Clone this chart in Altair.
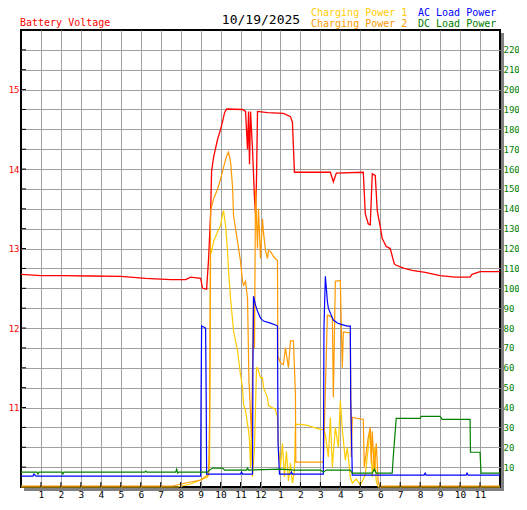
import altair as alt
import pandas as pd

# ---------------- data ----------------
hour_ticks = list(range(1, 24))
hour_labels = ["1", "2", "3", "4", "5", "6", "7", "8", "9", "10", "11", "12",
               "1", "2", "3", "4", "5", "6", "7", "8", "9", "10", "11"]
volt_labels = [11, 12, 13, 14, 15]
power_ticks = list(range(10, 221, 10))

date_text = "10/19/2025"
volt_name = "Battery Voltage"
series_names = ["Charging Power 1", "Charging Power 2", "AC Load Power", "DC Load Power"]
series_colors = ["#FFCC00", "#FF9900", "#0000FF", "#008000"]

volt_t = [0, 1.0, 2.0, 3.5, 5.0, 6.25, 7.5, 8.25, 8.5, 9.0, 9.1, 9.3, 9.4, 9.5, 9.55,
          9.65, 9.85, 10.0, 10.1, 10.2, 10.3, 11.1, 11.25, 11.35, 11.4, 11.45, 11.5,
          11.6, 11.7, 11.75, 11.8, 11.85, 12.35, 13.15, 13.5, 13.6, 13.7, 15.5, 15.65,
          15.8, 17.15, 17.25, 17.4, 17.5, 17.6, 17.75, 17.85, 18.0, 18.1, 18.3, 18.5,
          18.7, 18.8, 19.2, 19.6, 20.25, 21.0, 21.75, 22.5, 22.6, 23.0, 24.0]
volt_v = [12.675, 12.66, 12.66, 12.655, 12.65, 12.625, 12.61, 12.61, 12.64, 12.625, 12.5,
          12.49, 12.875, 13.44, 13.975, 14.15, 14.375, 14.5, 14.6, 14.71, 14.756, 14.75,
          14.725, 14.25, 14.725, 14.06, 14.725, 14.25, 13.625, 13.44, 13.875, 14.725,
          14.71, 14.7, 14.66, 14.59, 13.96, 13.96, 13.84, 13.95, 13.96, 13.44, 13.31,
          13.3, 13.94, 13.92, 13.475, 13.275, 13.125, 13.025, 13.0, 12.81, 12.79, 12.75,
          12.725, 12.7, 12.66, 12.64, 12.64, 12.675, 12.71, 12.71]

cp1_t = [0, 7.85, 8.5, 9.35, 9.45, 9.5, 9.55, 9.65, 9.85, 10.0, 10.1, 10.15, 10.25, 10.35,
         10.4, 10.5, 10.65, 10.85, 11.0, 11.1, 11.15, 11.25, 11.35, 11.4, 11.45, 11.5,
         11.55, 11.6, 11.7, 11.8, 11.85, 12.0, 12.1, 12.15, 12.35, 12.4, 12.75, 12.85,
         12.9, 13.0, 13.1, 13.2, 13.3, 13.4, 13.5, 13.6, 13.7, 13.75, 14.0, 14.35, 14.65,
         15.0, 15.15, 15.25, 15.4, 15.5, 15.6, 15.75, 15.9, 16.0, 16.1, 16.25, 16.35,
         16.5, 16.6, 16.8, 17.0, 17.25, 17.5, 17.6, 17.7, 17.8, 17.9, 24.0]
cp1_w = [0, 0, 1.5, 5, 12, 120, 118.5, 123.5, 128.5, 131.5, 137.5, 139, 131.5, 118.5,
         108.5, 95, 78.5, 68.5, 56.5, 50, 41.5, 38.5, 31.5, 28.5, 23.5, 10, 30, 5, 20,
         60, 60, 55, 55, 50, 45, 41, 39, 35, 20, 10, 22, 5, 18, 3, 12, 2, 8, 31.5, 31.5,
         31, 30, 29, 29, 26.5, 15, 35, 10, 30, 20, 43.5, 29, 13.5, 20, 5, 2, 4, 1, 6,
         29, 5, 20, 3, 0, 0]

cp2_t = [0, 7.6, 8.0, 9.0, 9.35, 9.4, 9.45, 9.5, 9.65, 9.85, 10.0, 10.15, 10.3, 10.4,
         10.5, 10.6, 10.65, 10.85, 11.0, 11.1, 11.15, 11.25, 11.35, 11.38, 11.42, 11.45,
         11.55, 11.65, 11.7, 11.75, 11.85, 11.9, 12.0, 12.1, 12.15, 12.25, 12.35, 12.4,
         12.5, 12.65, 12.85, 12.87, 13.0, 13.15, 13.25, 13.35, 13.4, 13.5, 13.65, 13.75,
         13.77, 15.15, 15.2, 15.35, 15.5, 15.6, 15.65, 15.75, 16.0, 16.05, 16.1, 16.15,
         16.5, 16.55, 16.6, 17.15, 17.2, 17.4, 17.5, 17.55, 17.6, 17.7, 17.8, 17.9, 18.0,
         24.0]
cp2_w = [0.5, 0.5, 1.5, 3.5, 6, 6, 35, 139, 145, 150, 155, 161, 166.5, 168.5, 163.5,
         151, 136.5, 123.5, 113.5, 103.5, 101.5, 103.5, 95, 78, 53, 48, 25, 95, 70, 150,
         120, 140, 115, 135, 128, 119, 115, 119, 118.5, 116, 114, 66, 62.5, 61.5, 70,
         63.5, 60, 73.5, 73.5, 46.5, 12.5, 12.5, 30, 86.5, 86, 85, 45, 103.5, 104, 80,
         60, 78, 77.5, 15, 35, 34, 10, 25, 30, 12, 28, 8, 22, 2, 0.5, 0.5]

ac_t = [0, 0.6, 0.65, 0.75, 9.0, 9.02, 9.05, 9.25, 9.28, 9.3, 11.0, 11.05, 11.1, 11.6,
        11.62, 11.65, 11.75, 11.85, 12.0, 12.15, 12.5, 12.75, 12.85, 12.88, 12.95, 13.5,
        13.55, 13.6, 15.15, 15.18, 15.25, 15.3, 15.35, 15.4, 15.5, 15.65, 15.85, 16.0,
        16.35, 16.5, 16.52, 16.6, 20.2, 20.25, 20.3, 22.3, 22.35, 22.4, 24.0]
ac_w = [5.5, 5.5, 6.5, 5.5, 5.5, 43, 81, 80, 43, 6.5, 6.5, 7.5, 6.5, 6.5, 60, 96, 91.5,
        88.5, 85, 83.5, 82.5, 81.5, 81, 22, 6.5, 6.5, 7.5, 6.5, 6.5, 80, 106, 100, 93.5,
        90, 87.5, 84, 82.5, 82, 81, 81, 44, 6, 6, 7, 6, 6, 7, 6, 6]

dc_t = [0, 0.8, 0.85, 0.9, 2.05, 2.1, 2.15, 6.2, 6.25, 6.3, 7.75, 7.8, 7.85, 7.9, 9.35,
        9.45, 9.6, 10.1, 10.2, 11.3, 11.35, 11.4, 13.0, 13.7, 15.0, 15.15, 15.3, 16.5,
        16.6, 17.6, 17.7, 17.8, 18.6, 18.65, 18.75, 18.8, 20.0, 20.05, 21.0, 21.1, 22.5,
        22.52, 23.0, 23.05, 24.0]
dc_w = [7.5, 7.5, 6.5, 7.5, 7.5, 6.5, 7.5, 7.5, 8, 7.5, 7.5, 9, 7, 7.5, 7.5, 8.5, 9.5,
        9.5, 8.5, 8.5, 9.5, 8.5, 9, 8.5, 8.5, 7.5, 8.5, 8.5, 7, 7, 9, 7, 7, 15, 28, 34.5,
        34.5, 35.5, 35.5, 34, 34, 17.5, 17.5, 7, 7]

# ---------------- tables ----------------
volt_df = pd.DataFrame({"t": volt_t, "v": volt_v})
frames = []
for name, ts, ws in zip(series_names, [cp1_t, cp2_t, ac_t, dc_t], [cp1_w, cp2_w, ac_w, dc_w]):
    frames.append(pd.DataFrame({"t": ts, "w": ws, "series": name}))
power_df = pd.concat(frames, ignore_index=True)
left_tick_df = pd.DataFrame({"w": power_ticks})
bottom_tick_df = pd.DataFrame({"t": hour_ticks})

W, H = 479, 457
FONT = "DejaVu Sans Mono"
GRID = "#A0A0A0"

label_expr = "[" + ",".join(f"'{s}'" for s in hour_labels) + "][datum.value - 1]"

x_enc = alt.X("t:Q", scale=alt.Scale(domain=[0, 24], nice=False, zero=False),
              axis=alt.Axis(values=hour_ticks, labelExpr=label_expr, grid=True,
                            gridColor=GRID, gridWidth=1, ticks=False, domain=False,
                            labelFont=FONT, labelFontSize=9.5, labelColor="black",
                            labelPadding=2, title=None))

power_y = alt.Y("w:Q", scale=alt.Scale(domain=[0, 230], nice=False, zero=True),
                axis=alt.Axis(orient="right", values=power_ticks, grid=True,
                              gridColor=GRID, gridWidth=1, ticks=False, domain=False,
                              labelFont=FONT, labelFontSize=9, labelColor="#008000",
                              labelPadding=3, title=None))

volt_layer = alt.Chart(volt_df).mark_line(color="#FF0000", strokeWidth=1.3).encode(
    x=x_enc,
    y=alt.Y("v:Q", scale=alt.Scale(domain=[10, 15.75], nice=False, zero=False),
            axis=alt.Axis(orient="left", values=volt_labels, grid=False, ticks=False,
                          domain=False, labelFont=FONT, labelFontSize=9,
                          labelColor="#FF0000", labelPadding=2, title=None)),
)

power_lines = alt.Chart(power_df).mark_line(strokeWidth=1.2).encode(
    x=x_enc,
    y=power_y,
    color=alt.Color("series:N", scale=alt.Scale(domain=series_names, range=series_colors),
                    legend=None),
    order=alt.Order("t:Q"),
)

left_ticks = alt.Chart(left_tick_df).mark_rule(color="black", strokeWidth=1).encode(
    x=alt.value(0), x2=alt.value(5), y=power_y)

bottom_ticks = alt.Chart(bottom_tick_df).mark_rule(color="black", strokeWidth=1).encode(
    x=x_enc, y=alt.value(H - 5), y2=alt.value(H))

power_group = alt.layer(power_lines, left_ticks, bottom_ticks)

one = alt.Data(values=[{"k": 1}])
shadow_r = alt.Chart(one).mark_rect(color="#808080").encode(
    x=alt.value(W + 1), x2=alt.value(W + 4), y=alt.value(3), y2=alt.value(H + 4))
shadow_b = alt.Chart(one).mark_rect(color="#808080").encode(
    x=alt.value(3), x2=alt.value(W + 4), y=alt.value(H + 1), y2=alt.value(H + 4))


def label(text, x, y, color, size=10, align="left"):
    return alt.Chart(one).mark_text(text=text, font=FONT, fontSize=size, color=color,
                                    align=align, baseline="middle").encode(
        x=alt.value(x), y=alt.value(y))


titles = [
    label(volt_name, -1, -7, "#FF0000"),
    label(date_text, 240, -10, "black", size=13, align="center"),
    label(series_names[0], 290, -17, series_colors[0]),
    label(series_names[1], 290, -6, series_colors[1]),
    label(series_names[2], 397, -17, series_colors[2]),
    label(series_names[3], 397, -6, series_colors[3]),
]

chart = alt.layer(shadow_r, shadow_b, volt_layer, power_group, *titles).resolve_scale(
    y="independent"
).properties(
    width=W, height=H,
    padding={"left": 13, "top": 22, "right": 19, "bottom": 11},
    autosize=alt.AutoSizeParams(type="none"),
    background="white",
).configure_view(stroke="black", strokeWidth=2)

chart.save("out.html", embed_options={"renderer": "svg", "actions": False})
